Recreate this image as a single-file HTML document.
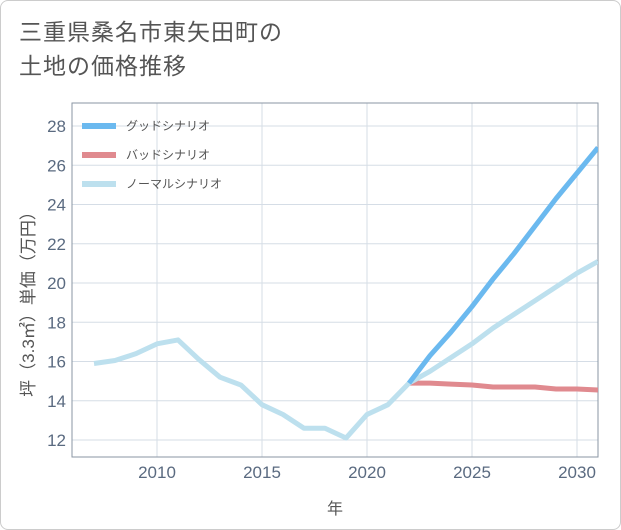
<!DOCTYPE html>
<html><head><meta charset="utf-8"><style>
body{margin:0;background:#fff;}
#wrap{position:relative;width:619px;height:528px;border:1px solid #ccc;border-radius:8px;background:#fff;overflow:hidden;font-family:"Liberation Sans","Noto Sans CJK JP",sans-serif;}
#title{position:absolute;left:18px;top:14px;font-size:23px;line-height:34px;color:#555;letter-spacing:1px;}
</style></head><body>
<div id="wrap">
<div id="title">三重県桑名市東矢田町の<br>土地の価格推移</div>
<svg id="chart" width="621" height="530" style="position:absolute;left:-1px;top:-1px"></svg>
</div>
<script>
const years=[2007,2008,2009,2010,2011,2012,2013,2014,2015,2016,2017,2018,2019,2020,2021,2022,2023,2024,2025,2026,2027,2028,2029,2030,2031];
const normal=[15.9,16.05,16.4,16.9,17.1,16.1,15.2,14.8,13.8,13.3,12.6,12.6,12.1,13.3,13.8,14.9,15.5,16.2,16.9,17.7,18.4,19.1,19.8,20.5,21.1];
const futYears=[2022,2023,2024,2025,2026,2027,2028,2029,2030,2031];
const good=[14.9,16.3,17.5,18.8,20.2,21.5,22.9,24.3,25.6,26.9];
const bad=[14.9,14.9,14.85,14.8,14.7,14.7,14.7,14.6,14.6,14.55];
const xTicks=[2010,2015,2020,2025,2030];
const yTicks=[12,14,16,18,20,22,24,26,28];
const NS='http://www.w3.org/2000/svg';
const svg=document.getElementById('chart');
const L=72,R=598,T=103,B=457;
const x=v=>157+(v-2010)*21;
const y=v=>440-(v-12)*19.625;
function mk(t,a,p){const e=document.createElementNS(NS,t);for(const k in a)e.setAttribute(k,a[k]);(p||svg).appendChild(e);return e;}
const grid=mk('g',{});


xTicks.forEach(t=>{const l=mk('line',{x1:x(t),x2:x(t),y1:T,y2:B,stroke:'#d5dde6','stroke-width':1},grid);


const tx=mk('text',{x:x(t),y:478,'text-anchor':'middle','font-size':17,fill:'#5a6a80'});tx.textContent=t;

});
yTicks.forEach(t=>{const l=mk('line',{x1:L,x2:R,y1:y(t),y2:y(t),stroke:'#d5dde6','stroke-width':1},grid);


const tx=mk('text',{x:66,y:y(t)+6,'text-anchor':'end','font-size':17,fill:'#5a6a80'});tx.textContent=t;

});
const frame=mk('rect',{x:L,y:T,width:R-L,height:B-T,fill:'none',stroke:'#8a96a3','stroke-width':1});


const cp=mk('clipPath',{id:'cp'});mk('rect',{x:L,y:T,width:R-L,height:B-T},cp);
function line(xs,vs,color,name){const p=mk('polyline',{points:xs.map((v,i)=>x(v)+','+y(vs[i])).join(' '),fill:'none',stroke:color,'stroke-width':5,'stroke-linejoin':'round','clip-path':'url(#cp)'});

}
line(futYears,bad,'#e08a8f','bad-scenario-line');
line(years,normal,'#bde0ee','normal-scenario-line');
line(futYears,good,'#6bb9ef','good-scenario-line');
[['グッドシナリオ','#6bb9ef',126],['バッドシナリオ','#e08a8f',155],['ノーマルシナリオ','#bde0ee',184]].forEach(([n,c,yy])=>{
const g=mk('g',{});


mk('line',{x1:82,x2:116,y1:yy,y2:yy,stroke:c,'stroke-width':6},g);
const t=mk('text',{x:126,y:yy+4,'font-size':12,fill:'#555'},g);t.textContent=n;});
const xt=mk('text',{x:335,y:514,'text-anchor':'middle','font-size':16,fill:'#555'});xt.textContent='年';


const yt=mk('text',{x:0,y:0,'text-anchor':'middle','font-size':17,fill:'#555',transform:'translate(34,300) rotate(-90)'});yt.textContent='坪（3.3㎡）単価（万円）';


</script>
</body></html>
